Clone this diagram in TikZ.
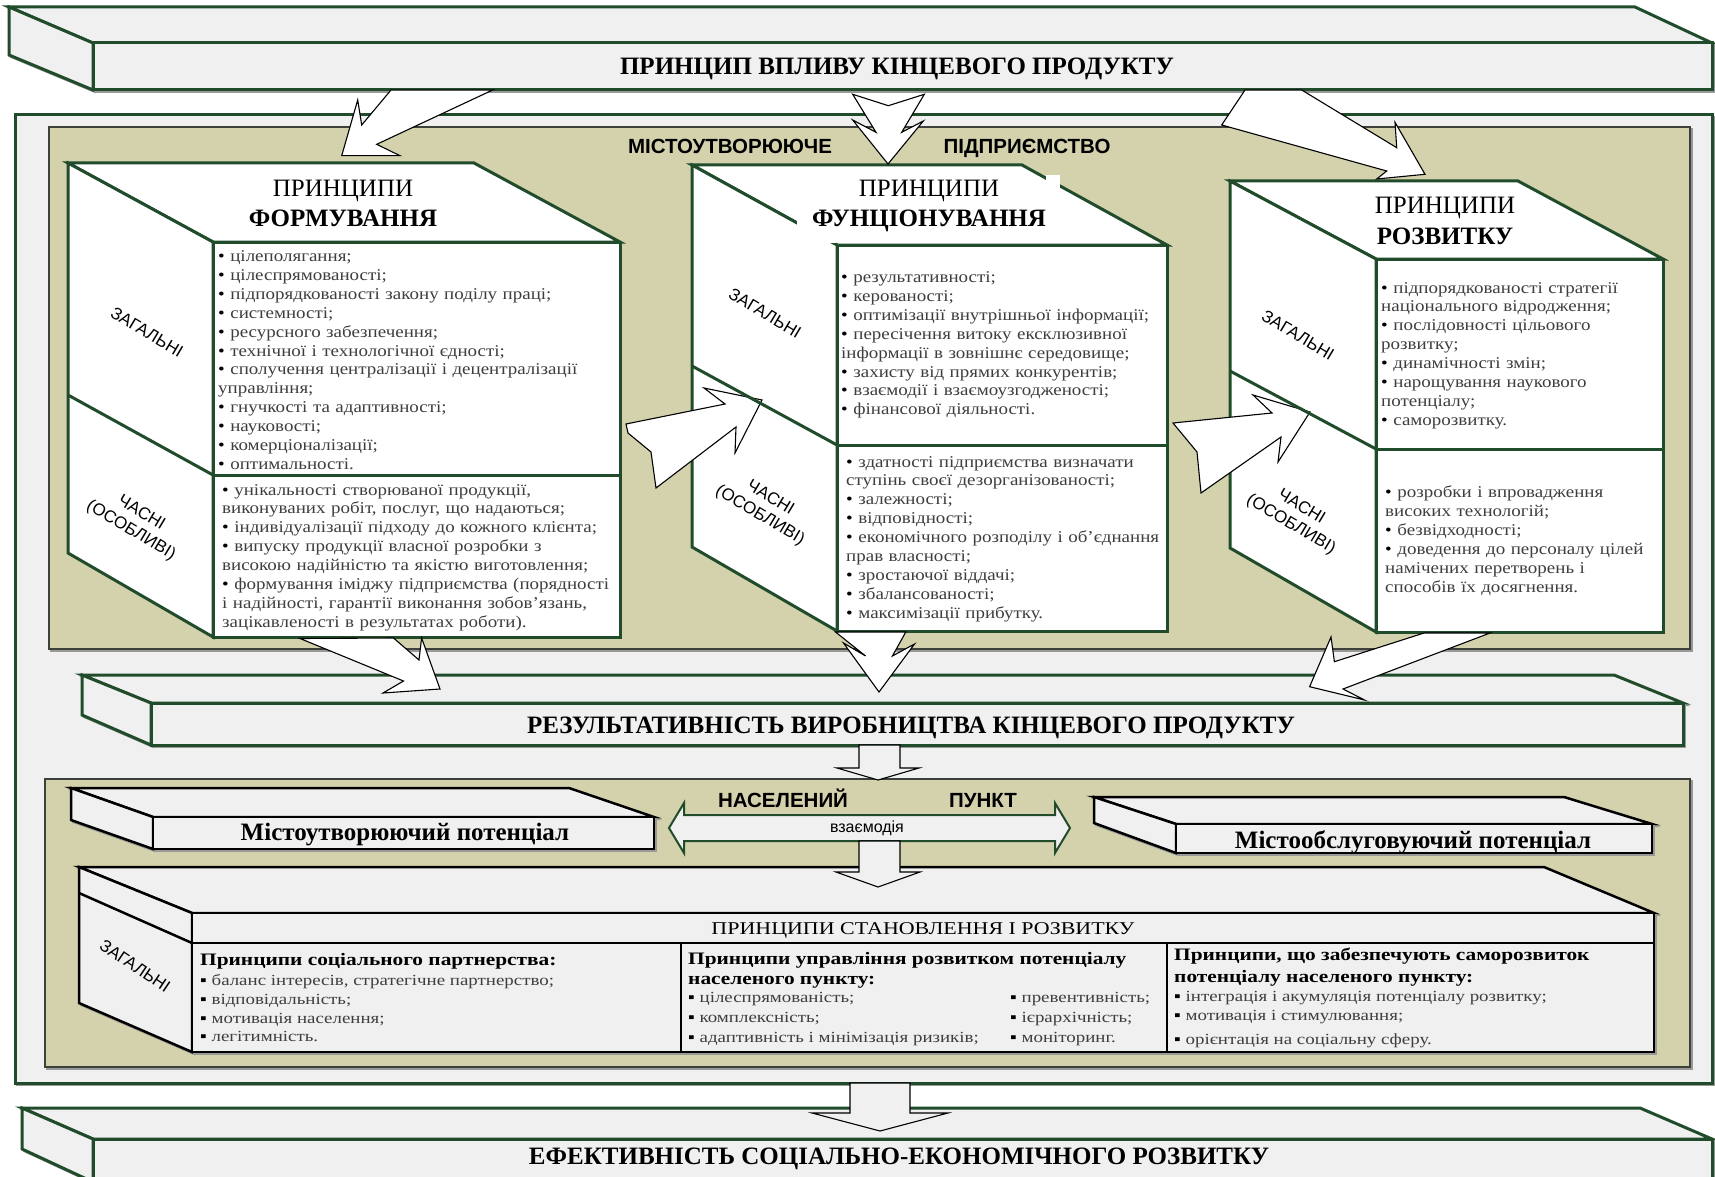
\documentclass[tikz,border=0pt]{standalone}
\usepackage{fontspec}
\setmainfont{Liberation Serif}
\setsansfont{Liberation Sans}
\newfontfamily\listfont[FakeStretch=1.15]{Liberation Serif}
\newfontfamily\widefont[FakeStretch=1.22]{Liberation Serif}
\definecolor{dgreen}{RGB}{33,76,44}
\definecolor{olivebg}{RGB}{211,210,172}
\definecolor{panelgrey}{RGB}{240,240,240}
\definecolor{txtgrey}{RGB}{62,62,62}
\definecolor{olineC}{RGB}{60,66,58}
\newcommand{\bl}{\textcolor{black}{•}\ }
\newcommand{\sq}{\textcolor{black}{▪}\ }
\begin{document}
\begin{tikzpicture}[x=1pt,y=-1pt,
  shd/.style={preaction={draw=black!40,line width=2pt,transform canvas={shift={(2pt,-2pt)}}}},
  barface/.style={fill=panelgrey,draw=dgreen,line width=3pt,line join=miter},
  cubeface/.style={fill=white,draw=dgreen,line width=3pt,line join=miter},
  cubeline/.style={draw=dgreen,line width=3pt},
  bface/.style={fill=panelgrey,draw=black,line width=2.5pt,line join=miter},
  oliveframe/.style={fill=olivebg,draw=olineC,line width=1.5pt},
  barrow/.style={fill=white,draw=black,line width=1.1pt,line join=miter},
  garrow/.style={fill=panelgrey,draw=dgreen,line width=2pt,line join=miter},
  bigtitle/.style={font=\fontsize{25}{30}\selectfont\bfseries,anchor=base,inner sep=0pt},
  ctitle/.style={font=\fontsize{25}{30}\selectfont,anchor=base,inner sep=0pt},
  ctitleb/.style={font=\fontsize{25}{30}\selectfont\bfseries,anchor=base,inner sep=0pt},
  sanshead/.style={font=\sffamily\bfseries\fontsize{20.5}{24}\selectfont,anchor=base,inner sep=0pt},
  sidelabel/.style={font=\sffamily\fontsize{17}{20}\selectfont,align=center,inner sep=0pt,rotate=-31},
  listnode/.style={anchor=base west,inner sep=0pt,align=left,text width=#1,
    font=\listfont\fontsize{16.5}{18.9}\selectfont,text=txtgrey},
  botline/.style={anchor=base west,inner sep=0pt,font=\widefont\fontsize{15.5}{19}\selectfont,text=txtgrey},
  botbold/.style={anchor=base west,inner sep=0pt,font=\widefont\bfseries\fontsize{17.5}{20}\selectfont,text=black},
  pot/.style={font=\fontsize{25}{30}\selectfont\bfseries,anchor=base,inner sep=0pt}
]
\useasboundingbox (0,0) rectangle (1715,1177);
\fill[white] (0,0) rectangle (1715,1177);

% ---------- top bar ----------
\draw[barface,shd] (9,7) -- (1635,7) -- (1712,43) -- (93,43) -- cycle;
\draw[barface,shd] (9,7) -- (93,43) -- (93,90) -- (9,55) -- cycle;
\draw[barface,shd] (93,43) rectangle (1712,90);
\node[bigtitle] (tTop) at (897,75) {ПРИНЦИП ВПЛИВУ КІНЦЕВОГО ПРОДУКТУ};

% ---------- big panel ----------
\draw[fill=panelgrey,draw=dgreen,line width=3pt,shd] (15,115) rectangle (1712,1083);
\draw[oliveframe,shd] (49,127) rectangle (1690,649);
\node[sanshead] (tMist) at (730,154) {МІСТОУТВОРЮЮЧЕ};
\node[sanshead] (tPidp) at (1027,154) {ПІДПРИЄМСТВО};

% ---------- cube 1 ----------
\draw[cubeface] (68,163) -- (474,163) -- (620,242) -- (213,242) -- cycle;
\draw[cubeface] (68,163) -- (213,242) -- (213,637) -- (68,553) -- cycle;
\draw[cubeface] (213,242) rectangle (620,637);
\draw[cubeline] (213,475) -- (620,475);
\draw[cubeline] (68,395) -- (213,475);
\node[ctitle] (c1t1) at (343,196.5) {ПРИНЦИПИ};
\node[ctitleb] (c1t2) at (343,226.5) {ФОРМУВАННЯ};
\node[sidelabel] (c1g) at (147,332) {ЗАГАЛЬНІ};
\node[sidelabel] (c1c) at (136,522) {ЧАСНІ\\(ОСОБЛИВІ)};
\node[listnode=398pt] (c1up) at (218,261.5) {\bl цілеполягання;\\
\bl цілеспрямованості;\\
\bl підпорядкованості закону поділу праці;\\
\bl системності;\\
\bl ресурсного забезпечення;\\
\bl технічної і технологічної єдності;\\
\bl сполучення централізації і децентралізації\\
управління;\\
\bl гнучкості та адаптивності;\\
\bl науковості;\\
\bl комерціоналізації;\\
\bl оптимальності.};
\node[listnode=396pt] (c1lo) at (222,495) {\bl унікальності створюваної продукції,\\
виконуваних робіт, послуг, що надаються;\\
\bl індивідуалізації підходу до кожного клієнта;\\
\bl випуску продукції власної розробки з\\
високою надійністю та якістю виготовлення;\\
\bl формування іміджу підприємства (порядності\\
і надійності, гарантії виконання зобов’язань,\\
зацікавленості в результатах роботи).};

% ---------- cube 2 ----------
\draw[cubeface] (692,165) -- (1022,165) -- (1167,245) -- (837,245) -- cycle;
\draw[cubeface] (692,165) -- (837,245) -- (837,631) -- (692,547) -- cycle;
\draw[cubeface] (837,245) rectangle (1167,631);
\draw[cubeline] (837,445) -- (1167,445);
\fill[white] (797,219) rectangle (835.5,243);
\fill[white] (1046,175) rectangle (1060,190);
\node[ctitle] (c2t1) at (929,196.5) {ПРИНЦИПИ};
\node[ctitleb] (c2t2) at (929,226.5) {ФУНЦІОНУВАННЯ};
\node[sidelabel] (c2g) at (765,313) {ЗАГАЛЬНІ};
\node[sidelabel] (c2c) at (765,507) {ЧАСНІ\\(ОСОБЛИВІ)};
\node[listnode=324pt] (c2up) at (841,282.5) {\bl результативності;\\
\bl керованості;\\
\bl оптимізації внутрішньої інформації;\\
\bl пересічення витоку ексклюзивної\\
інформації в зовнішнє середовище;\\
\bl захисту від прямих конкурентів;\\
\bl взаємодії і взаємоузгодженості;\\
\bl фінансової діяльності.};
\node[listnode=319pt] (c2lo) at (846,467) {\bl здатності підприємства визначати\\
ступінь своєї дезорганізованості;\\
\bl залежності;\\
\bl відповідності;\\
\bl економічного розподілу і об’єднання\\
прав власності;\\
\bl зростаючої віддачі;\\
\bl збалансованості;\\
\bl максимізації прибутку.};

% ---------- cube 3 ----------
\draw[cubeface] (1230,181) -- (1518,181) -- (1663,259) -- (1376,259) -- cycle;
\draw[cubeface] (1230,181) -- (1376,259) -- (1376,632) -- (1230,548) -- cycle;
\draw[cubeface] (1376,259) rectangle (1663,632);
\draw[cubeline] (1376,449) -- (1663,449);
\node[ctitle] (c3t1) at (1445,214) {ПРИНЦИПИ};
\node[ctitleb] (c3t2) at (1445,244) {РОЗВИТКУ};
\node[sidelabel] (c3g) at (1298,335) {ЗАГАЛЬНІ};
\node[sidelabel] (c3c) at (1296,516) {ЧАСНІ\\(ОСОБЛИВІ)};
\node[listnode=280pt] (c3up) at (1381,293) {\bl підпорядкованості стратегії\\
національного відродження;\\
\bl послідовності цільового\\
розвитку;\\
\bl динамічності змін;\\
\bl нарощування наукового\\
потенціалу;\\
\bl саморозвитку.};
\node[listnode=276pt] (c3lo) at (1385,497.5) {\bl розробки і впровадження\\
високих технологій;\\
\bl безвідходності;\\
\bl доведення до персоналу цілей\\
намічених перетворень і\\
способів їх досягнення.};

% ---------- arrows from top bar ----------
\draw[barrow] (391,90) -- (361.7,125) -- (357.7,100) -- (341.7,155.7) -- (400,155.7) -- (376.7,144.3) -- (492.7,90) -- cycle;
\draw[barrow] (852.7,94.3) -- (888.3,105.7) -- (924.3,94.3) -- (901.7,132.3) -- (923.3,121) -- (888,164) -- (852.7,120) -- (876,132.3) -- cycle;
\draw[barrow] (1245,90) -- (1221.7,125) -- (1386.7,171) -- (1376.7,179) -- (1425,174.3) -- (1395,122.3) -- (1396.7,147.7) -- (1301.7,90) -- cycle;

% ---------- arrows between cubes ----------
\draw[barrow] (626,424) -- (725,404) -- (704,388) -- (762,400) -- (735,453) -- (736,427) -- (656,488) -- (651,452) -- (628,433) -- cycle;
\draw[cubeline] (692,366) -- (837,445);
\draw[barrow] (1173,423) -- (1272,413) -- (1253,395) -- (1310,412) -- (1278,462) -- (1281,437) -- (1201,493) -- (1197,452) -- cycle;
\draw[cubeline] (1230,371) -- (1376,449);

% ---------- result bar ----------
\draw[barface,shd] (82,675) -- (1614,675) -- (1683,703) -- (151,703) -- cycle;
\draw[barface,shd] (82,675) -- (151,703) -- (151,745) -- (82,715) -- cycle;
\draw[barface,shd] (151,703) rectangle (1683,745);
\node[bigtitle] (tRes) at (911,733) {РЕЗУЛЬТАТИВНІСТЬ ВИРОБНИЦТВА КІНЦЕВОГО ПРОДУКТУ};

% ---------- arrows from cubes to result bar ----------
\draw[barrow] (393.5,638) -- (419,660) -- (421.6,638) -- (440,689) -- (383,693) -- (403.5,681) -- (300,638.5) -- cycle;
\draw[barrow] (835.5,632) -- (865.6,656) -- (843.5,643) -- (879,692) -- (914.5,644) -- (892.4,656) -- (905.8,632) -- cycle;
\draw[barrow] (1424,633) -- (1334.4,661.7) -- (1331,637) -- (1309.6,686.7) -- (1364.5,700) -- (1343,689) -- (1490,633) -- cycle;

% ---------- lower olive panel ----------
\draw[oliveframe,shd] (45,779) rectangle (1690,1067);
\draw[barrow,fill=panelgrey] (859,745) -- (900,745) -- (900,768) -- (919,768) -- (878,780) -- (837,768) -- (859,768) -- cycle;

\draw[bface,shd] (71,788) -- (569,788) -- (654,817) -- (153,817) -- cycle;
\draw[bface,shd] (71,788) -- (153,817) -- (153,849) -- (71,820) -- cycle;
\draw[bface,shd] (153,817) rectangle (654,849);
\node[pot] (potA) at (405,840) {Містоутворюючий потенціал};

\draw[bface,shd] (1094,797) -- (1564,797) -- (1652,824) -- (1176,824) -- cycle;
\draw[bface,shd] (1094,797) -- (1176,824) -- (1176,853) -- (1094,823) -- cycle;
\draw[bface,shd] (1176,824) rectangle (1652,853);
\node[pot] (potB) at (1413,848) {Містообслуговуючий потенціал};

\node[sanshead] (tNas) at (783,807) {НАСЕЛЕНИЙ};
\node[sanshead] (tPunkt) at (983,807) {ПУНКТ};
\draw[garrow] (669,828) -- (684,803) -- (684,815) -- (1055,815) -- (1055,803) -- (1070,828) -- (1055,853) -- (1055,841) -- (684,841) -- (684,853) -- cycle;
\node[font=\sffamily\fontsize{16}{19}\selectfont,anchor=base,inner sep=0pt] (tVz) at (867,832) {взаємодія};

% ---------- principles box ----------
\draw[bface,shd] (79,867) -- (1544,867) -- (1654,913) -- (192,913) -- cycle;
\draw[bface,shd] (79,867) -- (192,913) -- (192,1052) -- (79,1003) -- cycle;
\draw[black,line width=2.5pt] (79,893) -- (192,943);
\draw[bface,shd] (192,913) rectangle (1654,1052);
\draw[black,line width=2.5pt] (192,943) -- (1654,943);
\draw[black,line width=2pt] (681,943) -- (681,1052);
\draw[black,line width=2pt] (1167,943) -- (1167,1052);
\draw[barrow,fill=panelgrey] (859,841) -- (900,841) -- (900,872) -- (920,872) -- (878,887) -- (836,872) -- (859,872) -- cycle;
\node[anchor=base,inner sep=0pt,font=\widefont\fontsize{18}{22}\selectfont] (tHdr) at (923,934) {ПРИНЦИПИ СТАНОВЛЕННЯ І РОЗВИТКУ};
\node[sidelabel,rotate=-3] (bG) at (135,966) {ЗАГАЛЬНІ};

\node[botbold] (b1a) at (200,965.5) {Принципи соціального партнерства:};
\node[botline] (b1b) at (200,985.5) {\sq баланс інтересів, стратегічне партнерство;};
\node[botline] (b1c) at (200,1004.5) {\sq відповідальність;};
\node[botline] (b1d) at (200,1023.5) {\sq мотивація населення;};
\node[botline] (b1e) at (200,1041.5) {\sq легітимність.};

\node[botbold] (b2a) at (688,964) {Принципи управління розвитком потенціалу};
\node[botbold] (b2b) at (688,984) {населеного пункту:};
\node[botline] (b2c) at (688,1002) {\sq цілеспрямованість;};
\node[botline] (b2d) at (688,1022) {\sq комплексність;};
\node[botline] (b2e) at (688,1042) {\sq адаптивність і мінімізація ризиків;};
\node[botline] (b2f) at (1010,1002) {\sq превентивність;};
\node[botline] (b2g) at (1010,1022) {\sq ієрархічність;};
\node[botline] (b2h) at (1010,1042) {\sq моніторинг.};

\node[botbold] (b3a) at (1174,960.5) {Принципи, що забезпечують саморозвиток};
\node[botbold] (b3b) at (1174,982) {потенціалу населеного пункту:};
\node[botline] (b3c) at (1174,1001.5) {\sq інтеграція і акумуляція потенціалу розвитку;};
\node[botline] (b3d) at (1174,1020.5) {\sq мотивація і стимулювання;};
\node[botline] (b3e) at (1174,1044.5) {\sq орієнтація на соціальну сферу.};

% ---------- bottom bar ----------
\draw[barface,shd] (22,1108) -- (1640,1108) -- (1712,1139) -- (93,1139) -- cycle;
\draw[barface,shd] (22,1108) -- (93,1139) -- (93,1182) -- (22,1149) -- cycle;
\draw[barface,shd] (93,1139) rectangle (1712,1195);
\draw[barrow,fill=panelgrey] (850,1083) -- (910,1083) -- (910,1113) -- (948,1113) -- (880,1131) -- (812,1113) -- (850,1113) -- cycle;
\node[bigtitle] (tEff) at (899,1164) {ЕФЕКТИВНІСТЬ СОЦІАЛЬНО-ЕКОНОМІЧНОГО РОЗВИТКУ};
\end{tikzpicture}
\end{document}
